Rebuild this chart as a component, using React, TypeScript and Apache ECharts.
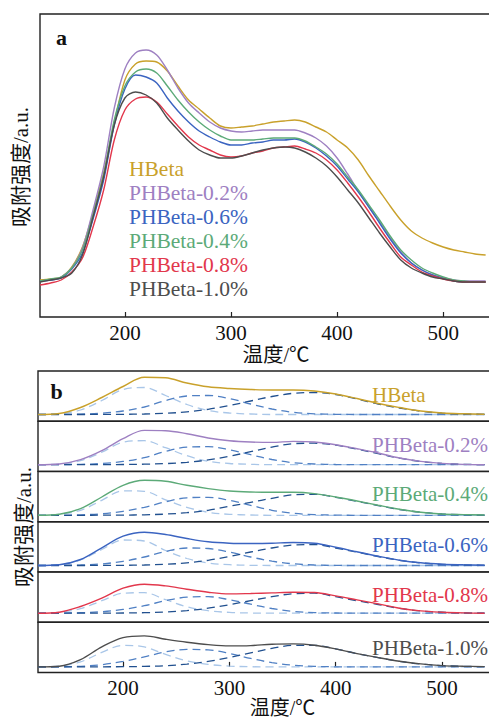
import { useEffect, useRef } from "react";
import * as echarts from "echarts";

// ---------- DATA ----------
// Panel a: temperatures (°C) and intensity (arbitrary units)
const TEMPS_A = [120,130,140,150,160,170,180,190,200,210,220,230,240,250,260,270,280,290,300,310,320,330,340,350,360,370,380,390,400,410,420,430,440,450,460,470,480,490,500,510,520,530,540];
const A_HBETA = [37,38,40,50,70,104,144,194,237,253,256,255,246,231,217,208,199,191,189,190,191,193,195,196,197,195,190,185,177,169,157,141,126,111,97,86,79,74,70,67,65,63,62];
const A_P02 = [36,37,40,49,69,107,150,209,248,264,267,262,247,229,214,204,195,189,186,185,186,187,187,187,187,184,179,171,159,143,126,110,95,79,65,54,47,42,39,37,36,36,36];
const A_P06 = [36,37,39,48,64,98,137,192,228,242,240,234,219,206,195,186,180,175,172,172,174,175,177,177,178,175,169,161,151,138,125,110,94,78,64,54,47,42,39,36,35,35,35];
const A_P04 = [36,38,40,49,67,102,142,197,231,245,248,244,231,217,205,195,187,181,177,177,177,178,179,179,179,176,170,163,153,140,127,112,97,81,67,57,49,44,40,37,36,35,35];
const A_P08 = [32,34,37,45,59,90,127,177,207,218,220,215,203,191,180,172,167,162,160,161,164,166,169,170,171,168,164,157,147,134,120,105,89,74,60,52,45,41,38,36,35,35,35];
const A_P10 = [35,37,39,44,62,100,140,192,219,225,222,214,199,187,176,167,162,159,159,161,164,167,169,170,169,165,159,151,140,127,114,99,84,70,57,49,44,40,38,36,35,35,35];

// Panel b: fitted curves (solid) and three deconvoluted peaks (dashed)
const TEMPS_B = [120,140,160,180,200,220,240,260,280,300,320,340,360,380,400,420,440,460,480,500,520,540];

const B_HBETA_SUM = [0,1,7,17,28,37.3,36.7,31.5,27.7,26,25,24.5,24.5,23.5,20.5,16,11,7,3.5,1.5,0.7,0.3];
const B_HBETA_P1 = [0,0.8,4.5,14,25,27,19,10,4,1.5,0.5,0,0,0,0,0,0,0,0,0,0,0];
const B_HBETA_P2 = [0,0.1,0.4,1.3,3.5,7.5,14,18.5,19,16,10.5,5.5,2.2,0.7,0.2,0,0,0,0,0,0,0];
const B_HBETA_P3 = [0,0,0,0.1,0.2,0.5,1.2,2.6,5.2,9,13.5,18,21.2,22,20,15.5,10.5,6.5,3.3,1.4,0.5,0.2];

const B_P02_SUM = [0,0.7,5,14,26,34.3,34,31,26.7,24,22.7,22.3,23.3,22.7,20,16,11.7,6.7,3.3,1.3,0.3,0];
const B_P02_P1 = [0,0.7,4,12.5,22.5,24,17,9,3.5,1.2,0.4,0,0,0,0,0,0,0,0,0,0,0];
const B_P02_P2 = [0,0.1,0.4,1.2,3.3,7,13.3,17.5,18,15,10,5.2,2,0.7,0.2,0,0,0,0,0,0,0];
const B_P02_P3 = [0,0,0,0.1,0.2,0.5,1.1,2.4,4.8,8.5,13,17.5,21,21.5,19.5,15.5,11,6.5,3.2,1.3,0.4,0.1];

const B_P04_SUM = [0,1,6.7,18.3,30,35,34,30,26.7,24.3,23.3,23,23,21.7,18.3,14.3,10,6,3,1.3,0.7,0.3];
const B_P04_P1 = [0,1,5,15,24.5,24,15.5,8,3,1,0.3,0,0,0,0,0,0,0,0,0,0,0];
const B_P04_P2 = [0,0.1,0.5,1.5,4,8,13.5,17.5,18,15,10,5,2,0.7,0.2,0,0,0,0,0,0,0];
const B_P04_P3 = [0,0,0,0.1,0.2,0.5,1.2,2.6,5,9,13,17,20.5,21,18,14,9.7,5.8,3,1.3,0.6,0.2];

const B_P06_SUM = [0,0.7,6,17.7,29.3,33.3,31,27,23.7,22.3,22,22.3,23,22.3,18.3,13.7,9.3,5.3,2.7,1.3,0.7,0.3];
const B_P06_P1 = [0,1,5.5,16,25.5,24.5,15,7,2.5,0.8,0.2,0,0,0,0,0,0,0,0,0,0,0];
const B_P06_P2 = [0,0.1,0.5,1.6,4.2,8.5,14,17.5,17,13.5,8.5,4.3,1.7,0.5,0.1,0,0,0,0,0,0,0];
const B_P06_P3 = [0,0,0,0.1,0.2,0.5,1.2,2.6,5.2,9,13.5,17.5,20.5,21,17.5,13.3,9,5.2,2.6,1.2,0.6,0.2];

const B_P08_SUM = [0,1,6.7,15,25,29,27.3,24,21,19.3,19.7,20.3,21,20.7,17.3,13.3,9.3,5,2.3,1,0.3,0];
const B_P08_P1 = [0,0.8,4.5,12.5,20,20.5,13.5,6.5,2.5,0.8,0.2,0,0,0,0,0,0,0,0,0,0,0];
const B_P08_P2 = [0,0.1,0.5,1.5,3.8,7.5,12.5,16,16.5,13.5,9,4.7,1.8,0.6,0.2,0,0,0,0,0,0,0];
const B_P08_P3 = [0,0,0,0.1,0.2,0.5,1.2,2.6,5,8.5,12.5,16.5,19.5,20,16.5,12.5,8.7,4.8,2.2,1,0.3,0];

const B_P10_SUM = [0,0.7,7.3,20,29.3,31,27.7,24.7,22.3,21,21.3,22.7,23,21.7,18,13.3,9.3,5.7,3,1.3,0.7,0.3];
const B_P10_P1 = [0,0.8,5,14.5,21.5,20,12.5,6,2.5,0.8,0.2,0,0,0,0,0,0,0,0,0,0,0];
const B_P10_P2 = [0,0.1,0.6,2.2,5.5,10,15,17.5,17,13.5,8.5,4.3,1.7,0.5,0.1,0,0,0,0,0,0,0];
const B_P10_P3 = [0,0,0,0.1,0.2,0.5,1.2,2.8,5.5,9.5,14,18.5,21.5,21.5,18,13.3,9.3,5.5,2.8,1.3,0.6,0.2];

const X_MIN = 120;
const Y_NAME = "吸附强度/a.u.";
const X_NAME = "温度/℃";

// ---------- STYLE / LAYOUT ----------
const SERIF = "'Liberation Serif','Times New Roman','Noto Sans CJK SC',serif";
const C_HBETA = "#C9A12B";
const C_P02 = "#9E80C2";
const C_P04 = "#5CAA78";
const C_P06 = "#3B64C1";
const C_P08 = "#E2374C";
const C_P10 = "#4D4D4D";
const C_LIGHT = "#A9C6E8";
const C_MID = "#5080C4";
const C_DARK = "#21508F";

const TOP_CURVES = [
  { name: "HBeta", values: A_HBETA, color: C_HBETA },
  { name: "PHBeta-0.2%", values: A_P02, color: C_P02 },
  { name: "PHBeta-0.6%", values: A_P06, color: C_P06 },
  { name: "PHBeta-0.4%", values: A_P04, color: C_P04 },
  { name: "PHBeta-0.8%", values: A_P08, color: C_P08 },
  { name: "PHBeta-1.0%", values: A_P10, color: C_P10 },
];
const LEGEND_Y = [169, 192.5, 216.7, 240.8, 265, 289];

const SUBPLOTS = [
  { name: "HBeta", color: C_HBETA, sum: B_HBETA_SUM, p1: B_HBETA_P1, p2: B_HBETA_P2, p3: B_HBETA_P3 },
  { name: "PHBeta-0.2%", color: C_P02, sum: B_P02_SUM, p1: B_P02_P1, p2: B_P02_P2, p3: B_P02_P3 },
  { name: "PHBeta-0.4%", color: C_P04, sum: B_P04_SUM, p1: B_P04_P1, p2: B_P04_P2, p3: B_P04_P3 },
  { name: "PHBeta-0.6%", color: C_P06, sum: B_P06_SUM, p1: B_P06_P1, p2: B_P06_P2, p3: B_P06_P3 },
  { name: "PHBeta-0.8%", color: C_P08, sum: B_P08_SUM, p1: B_P08_P1, p2: B_P08_P2, p3: B_P08_P3 },
  { name: "PHBeta-1.0%", color: C_P10, sum: B_P10_SUM, p1: B_P10_P1, p2: B_P10_P2, p3: B_P10_P3 },
];
const BOT_TOPS = [371, 421.2, 471.5, 521.7, 572, 622.3];
const BOT_H = 50.2;
const BASE_OFF = [6.7, 6.7, 6.4, 6.4, 9, 5.6];
const BOT_LABEL_Y = [394.7, 444.5, 493.7, 544.8, 594.5, 647.5];

function pairs(xs: number[], ys: number[]) {
  return xs.map((x, i) => [x, ys[i]]);
}

function txt(x: number, y: number, text: string, fill: string, size: number, align = "left", weight = "normal", rotation = 0) {
  return {
    type: "text",
    x,
    y,
    rotation,
    silent: true,
    style: {
      text,
      fill,
      fontSize: size,
      fontFamily: SERIF,
      fontWeight: weight,
      align,
      textAlign: align,
      verticalAlign: "middle",
      textVerticalAlign: "middle",
    },
  };
}

function buildOption() {
  const gridBase = { show: true, borderColor: "#222", borderWidth: 1.4, containLabel: false, outerBoundsMode: "none", backgroundColor: "transparent" };
  const grids: any[] = [{ ...gridBase, left: 40, top: 14, width: 452, height: 303 }];
  BOT_TOPS.forEach((t) => grids.push({ ...gridBase, left: 38, top: t, width: 454, height: BOT_H }));

  const visibleX = (gridIndex: number, max: number) => ({
    gridIndex,
    type: "value",
    min: X_MIN,
    max,
    position: "bottom",
    axisLine: { show: false },
    axisTick: { show: true, inside: true, length: 5, lineStyle: { color: "#222", width: 1.2 } },
    axisLabel: { show: true, margin: 5, fontSize: 21, fontFamily: SERIF, color: "#111", showMinLabel: false, showMaxLabel: false, hideOverlap: false },
    splitLine: { show: false },
  });

  const xAxes: any[] = [visibleX(0, 546)];
  const yAxes: any[] = [{ gridIndex: 0, type: "value", min: 0, max: 303, show: false }];
  SUBPLOTS.forEach((_, i) => {
    const gi = i + 1;
    if (i === SUBPLOTS.length - 1) xAxes.push(visibleX(gi, 547));
    else xAxes.push({ gridIndex: gi, type: "value", min: X_MIN, max: 547, show: false });
    yAxes.push({ gridIndex: gi, type: "value", min: -BASE_OFF[i], max: BOT_H - BASE_OFF[i], show: false });
  });

  const series: any[] = [];
  TOP_CURVES.forEach((c) => {
    series.push({
      type: "line",
      name: c.name,
      xAxisIndex: 0,
      yAxisIndex: 0,
      data: pairs(TEMPS_A, c.values),
      smooth: 0.3,
      symbol: "none",
      silent: true,
      lineStyle: { color: c.color, width: 1.4 },
      itemStyle: { color: c.color },
    });
  });
  SUBPLOTS.forEach((s, i) => {
    const idx = i + 1;
    const dashed = (vals: number[], color: string) => ({
      type: "line",
      xAxisIndex: idx,
      yAxisIndex: idx,
      data: pairs(TEMPS_B, vals),
      smooth: 0.35,
      symbol: "none",
      silent: true,
      z: 2,
      lineStyle: { color, width: 1.3, type: [8, 5] },
      itemStyle: { color },
    });
    series.push(dashed(s.p1, C_LIGHT));
    series.push(dashed(s.p2, C_MID));
    series.push(dashed(s.p3, C_DARK));
    series.push({
      type: "line",
      name: s.name,
      xAxisIndex: idx,
      yAxisIndex: idx,
      data: pairs(TEMPS_B, s.sum),
      smooth: 0.35,
      symbol: "none",
      silent: true,
      z: 3,
      lineStyle: { color: s.color, width: 1.4 },
      itemStyle: { color: s.color },
    });
  });

  const graphic: any[] = [];
  TOP_CURVES.forEach((c, i) => graphic.push(txt(129, LEGEND_Y[i], c.name, c.color, 21.5)));
  SUBPLOTS.forEach((s, i) => graphic.push(txt(372, BOT_LABEL_Y[i], s.name, s.color, 21)));
  graphic.push(txt(61.5, 37, "a", "#111", 22, "center", "bold"));
  graphic.push(txt(56.5, 391, "b", "#111", 22, "center", "bold"));
  graphic.push(txt(21, 167, Y_NAME, "#111", 21, "center", "normal", Math.PI / 2));
  graphic.push(txt(24, 527, Y_NAME, "#111", 21, "center", "normal", Math.PI / 2));
  graphic.push(txt(276, 355, X_NAME, "#111", 20.5, "center"));
  graphic.push(txt(282.5, 707.5, X_NAME, "#111", 20, "center"));

  return {
    animation: false,
    backgroundColor: "#fff",
    grid: grids,
    xAxis: xAxes,
    yAxis: yAxes,
    series,
    graphic: { elements: graphic },
  };
}

export default function App() {
  const ref = useRef<HTMLDivElement>(null);
  useEffect(() => {
    if (!ref.current) return;
    const chart = echarts.init(ref.current, undefined, { renderer: "svg" });
    chart.setOption(buildOption() as any);
    return () => chart.dispose();
  }, []);
  return (
    <div
      ref={ref}
      style={{ position: "fixed", left: 0, top: 0, width: 489, height: 720, background: "#fff" }}
    />
  );
}
